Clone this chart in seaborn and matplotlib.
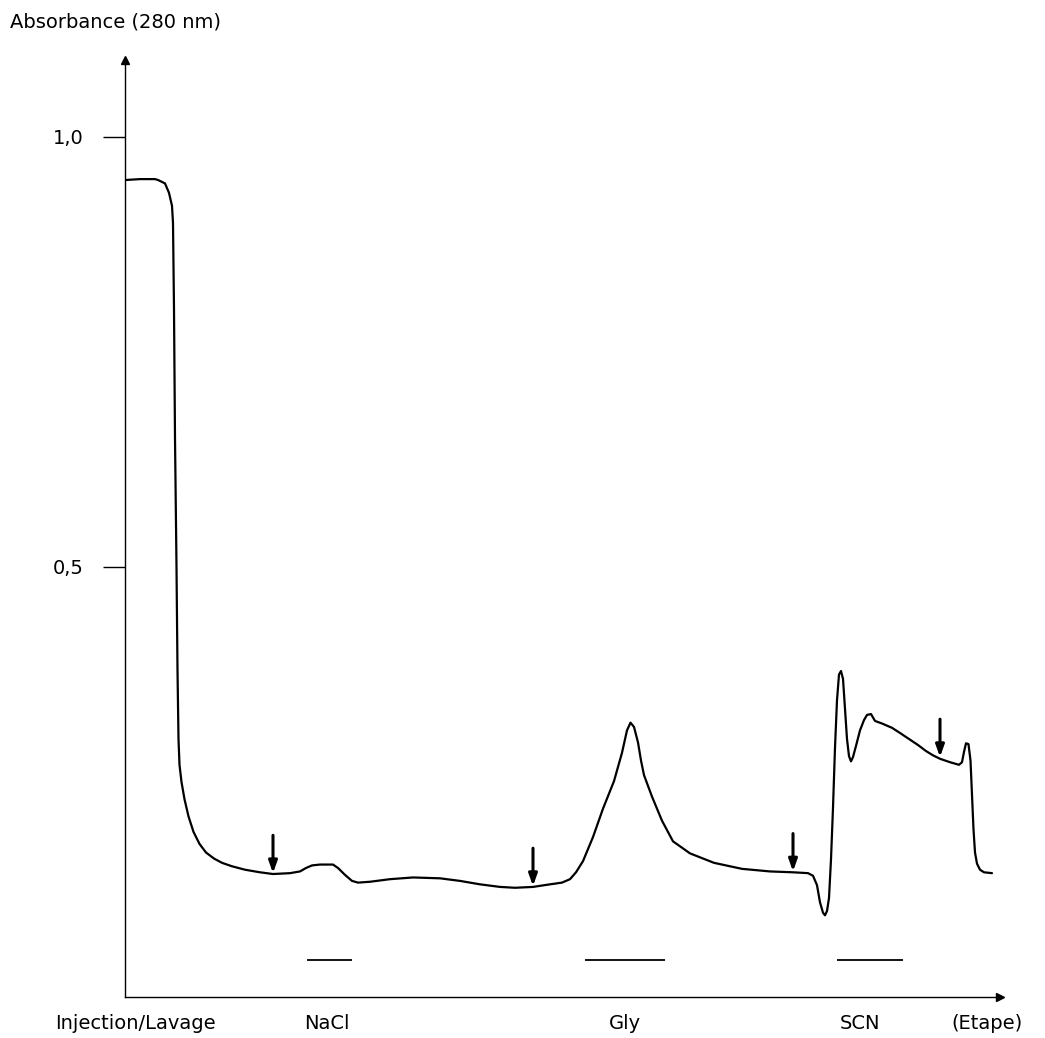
import matplotlib
matplotlib.use("Agg")
import matplotlib.pyplot as plt
import seaborn as sns
import pandas as pd

# -- Data --
elution = [0.1, 1.5, 3.0, 3.3, 4.0, 4.4, 4.7, 4.8, 4.9, 5.0, 5.15, 5.25, 5.35,
           5.45, 5.65, 5.95, 6.35, 6.85, 7.45, 8.1, 8.9, 9.7, 10.7, 12.0, 13.5,
           14.8, 16.5, 17.5, 18.1, 18.7, 19.5, 20.8, 21.3, 22.0, 22.7, 23.3,
           24.5, 26.5, 28.8, 31.5, 33.5, 35.5, 37.5, 39.0, 40.8, 42.5, 43.7,
           44.5, 45.1, 45.8, 46.8, 47.8, 48.9, 49.7, 50.2, 50.55, 50.9, 51.3,
           51.6, 51.9, 52.7, 53.7, 54.8, 56.5, 58.9, 61.7, 64.5, 66.8, 68.3,
           68.8, 69.2, 69.5, 69.8, 70.0, 70.2, 70.4, 70.6, 70.8, 71.0, 71.2,
           71.4, 71.6, 71.8, 72.0, 72.2, 72.4, 72.6, 72.8, 73.1, 73.5, 73.9,
           74.2, 74.6, 75.0, 75.7, 76.7, 77.5, 78.4, 79.3, 80.1, 80.8, 81.5,
           82.5, 83.4, 83.7, 83.9, 84.1, 84.35, 84.55, 84.7, 84.85, 85.0,
           85.2, 85.5, 85.9, 86.7]
absorbance = [0.950, 0.951, 0.951, 0.950, 0.946, 0.935, 0.920, 0.900, 0.800,
              0.650, 0.500, 0.380, 0.300, 0.270, 0.250, 0.230, 0.210, 0.192,
              0.178, 0.168, 0.161, 0.156, 0.152, 0.148, 0.145, 0.143, 0.144,
              0.146, 0.150, 0.153, 0.154, 0.154, 0.150, 0.142, 0.135, 0.133,
              0.134, 0.137, 0.139, 0.138, 0.135, 0.131, 0.128, 0.127, 0.128,
              0.131, 0.133, 0.137, 0.145, 0.158, 0.186, 0.219, 0.251, 0.284,
              0.310, 0.319, 0.314, 0.296, 0.275, 0.258, 0.233, 0.205, 0.181,
              0.167, 0.156, 0.149, 0.146, 0.145, 0.144, 0.141, 0.130, 0.110,
              0.098, 0.095, 0.100, 0.115, 0.160, 0.220, 0.290, 0.345, 0.375,
              0.379, 0.370, 0.335, 0.300, 0.280, 0.274, 0.279, 0.292, 0.310,
              0.322, 0.328, 0.329, 0.321, 0.318, 0.313, 0.307, 0.300, 0.293,
              0.286, 0.281, 0.277, 0.273, 0.270, 0.273, 0.285, 0.295, 0.294,
              0.275, 0.235, 0.195, 0.168, 0.155, 0.148, 0.145, 0.144]

# change-of-buffer arrows
arrow_x = [14.8, 40.8, 66.8, 81.5]
arrow_tip = [0.144, 0.129, 0.146, 0.279]

# elution windows (bars under the peaks)
bar_start = [18.2, 46.0, 71.2]
bar_end = [22.7, 54.0, 77.8]
bar_level = 0.043

step_labels = ["Injection/Lavage", "NaCl", "Gly", "SCN", "(Etape)"]
step_pos = [1.0, 20.2, 50.0, 73.5, 86.2]

ytick_vals = [0.5, 1.0]
ytick_text = ["0,5", "1,0"]

# -- Plot --
sns.set_style("white")
plt.rcParams['font.family'] = ['DejaVu Sans']
plt.rcParams['text.color'] = 'black'

df = pd.DataFrame({'elution': elution, 'A280': absorbance})

fig = plt.figure(figsize=(10.45, 10.38), dpi=100)
ax = fig.add_axes([125 / 1045, 41 / 1038, 875 / 1045, 937 / 1038])

sns.lineplot(data=df, x='elution', y='A280', color='black', linewidth=1.6,
             estimator=None, sort=False, ax=ax)

for x, tip in zip(arrow_x, arrow_tip):
    ax.annotate("", xy=(x, tip), xytext=(x, tip + 0.044),
                arrowprops=dict(arrowstyle="-|>,head_length=0.7,head_width=0.25",
                                color='black', lw=2.2, shrinkA=0, shrinkB=0))

ax.hlines([bar_level] * len(bar_start), bar_start, bar_end, color='black', lw=1.3)

ax.set_xlim(0, 87.5)
ax.set_ylim(0, 1.0895)

sns.despine(ax=ax)
for side in ['left', 'bottom']:
    ax.spines[side].set_color('black')
    ax.spines[side].set_linewidth(1.0)

# axis arrowheads
ax.plot(1, 0, ">k", markersize=6, transform=ax.get_yaxis_transform(), clip_on=False)
ax.plot(0, 1, "^k", markersize=6, transform=ax.get_xaxis_transform(), clip_on=False)

ax.set_yticks(ytick_vals)
ax.set_yticklabels(ytick_text, fontsize=14)
ax.tick_params(axis='y', left=True, direction='out', length=16, width=1.0,
               pad=14, colors='black')

ax.set_xticks(step_pos)
ax.set_xticklabels(step_labels, fontsize=14)
ax.tick_params(axis='x', bottom=True, length=0, pad=12, colors='black')

ax.set_xlabel("")
ax.set_ylabel("")

fig.text(10 / 1045, 1 - 22 / 1038, "Absorbance (280 nm)", fontsize=14,
         ha='left', va='center', color='black')

fig.savefig("out.png", dpi=100, facecolor='white')
